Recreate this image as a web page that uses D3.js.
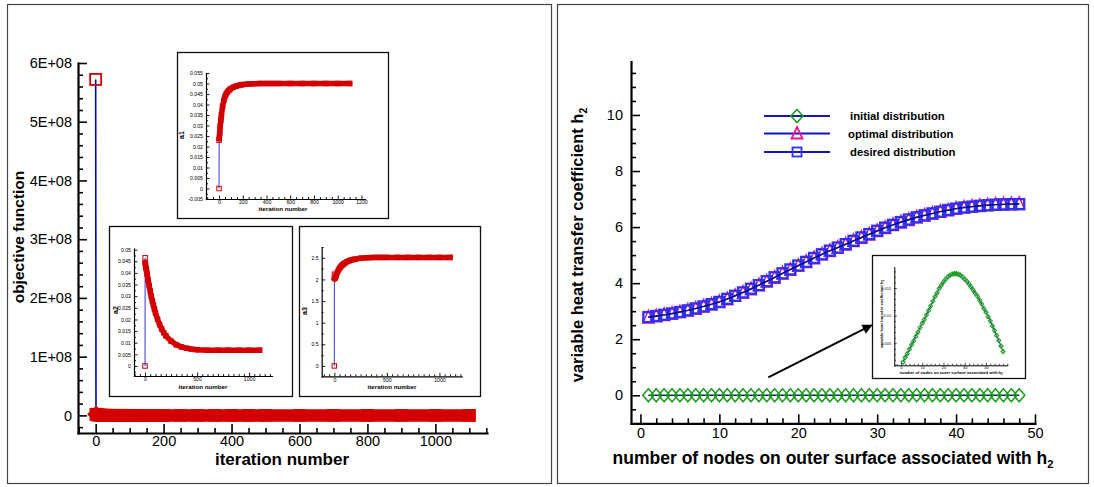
<!DOCTYPE html>
<html><head><meta charset="utf-8">
<script src="https://cdn.jsdelivr.net/npm/d3@7"></script>
<style>body{margin:0;background:#fff}svg{display:block}text{font-family:"Liberation Sans",Arial,Helvetica,sans-serif}</style>
</head><body><svg id="c" width="1094" height="487"></svg>
<script>
// ---------------- DATA ----------------
const iterations = [0,1,2,5,10,15,20,30,40,50,60,70,80,90,100,120,140,160,180,200,250,300,350,400,450,500,600,700,800,900,1000,1100];
const objective  = [5.72e8,1.8e6,1.2e6,8.0e5,5.5e5,4.0e5,3.0e5,1.9e5,1.3e5,9.0e4,6.5e4,4.8e4,3.6e4,2.7e4,2.1e4,1.3e4,8.5e3,5.8e3,4.0e3,2.9e3,1.5e3,9.0e2,6.0e2,4.5e2,3.6e2,3.0e2,2.4e2,2.1e2,1.9e2,1.8e2,1.7e2,1.7e2];
const a1 = [0,0.0230,0.0238,0.0262,0.0295,0.0325,0.0350,0.0392,0.0420,0.0438,0.0450,0.0459,0.0466,0.0471,0.0476,0.0482,0.0487,0.0490,0.0493,0.0495,0.0498,0.0499,0.0500,0.0500,0.0500,0.0500,0.0500,0.0500,0.0500,0.0500,0.0500,0.0500];
const a2 = [0,0.0465,0.0442,0.0435,0.0420,0.0407,0.0395,0.0370,0.0345,0.0322,0.0300,0.0280,0.0262,0.0245,0.0229,0.0201,0.0178,0.0159,0.0143,0.0130,0.0107,0.0091,0.0082,0.0076,0.0072,0.0070,0.0068,0.0068,0.0068,0.0068,0.0068,0.0068];
const a3 = [0,2.12,2.02,2.03,2.05,2.08,2.11,2.17,2.22,2.26,2.29,2.32,2.34,2.36,2.38,2.41,2.43,2.45,2.46,2.47,2.49,2.50,2.505,2.51,2.51,2.51,2.51,2.51,2.51,2.51,2.51,2.51];

const nodes = [1,2,3,4,5,6,7,8,9,10,11,12,13,14,15,16,17,18,19,20,21,22,23,24,25,26,27,28,29,30,31,32,33,34,35,36,37,38,39,40,41,42,43,44,45,46,47,48];
const initialH = [0,0,0,0,0,0,0,0,0,0,0,0,0,0,0,0,0,0,0,0,0,0,0,0,0,0,0,0,0,0,0,0,0,0,0,0,0,0,0,0,0,0,0,0,0,0,0,0];
const optimalH = [2.78,2.82,2.87,2.91,2.97,3.03,3.09,3.17,3.24,3.33,3.43,3.55,3.66,3.79,3.93,4.06,4.20,4.35,4.48,4.62,4.76,4.89,5.03,5.15,5.27,5.38,5.51,5.62,5.74,5.86,5.97,6.08,6.17,6.26,6.35,6.42,6.48,6.55,6.60,6.66,6.70,6.73,6.76,6.78,6.80,6.81,6.82,6.83];
const desiredH = [2.79,2.83,2.87,2.92,2.97,3.03,3.10,3.17,3.25,3.33,3.44,3.55,3.67,3.80,3.93,4.07,4.21,4.35,4.49,4.63,4.76,4.90,5.03,5.16,5.27,5.39,5.51,5.63,5.75,5.87,5.98,6.08,6.18,6.27,6.35,6.42,6.49,6.55,6.61,6.66,6.70,6.73,6.76,6.78,6.80,6.81,6.82,6.82];
const insetH = [0.0016,0.0024,0.0031,0.0039,0.0047,0.0054,0.0062,0.0070,0.0078,0.0086,0.0093,0.0101,0.0109,0.0117,0.0126,0.0134,0.0141,0.0149,0.0155,0.0161,0.0166,0.0170,0.0173,0.0175,0.0176,0.0176,0.0175,0.0173,0.0170,0.0166,0.0162,0.0157,0.0152,0.0146,0.0140,0.0135,0.0128,0.0121,0.0113,0.0106,0.0098,0.0090,0.0081,0.0073,0.0064,0.0055,0.0045,0.0035];

const legendLabels = ["initial distribution","optimal distribution","desired distribution"];
const objTicks = [0,1e8,2e8,3e8,4e8,5e8,6e8];
const iterTicks = [0,200,400,600,800,1000];
const iterTicks1 = [0,200,400,600,800,1000,1200];
const iterTicks2 = [0,500,1000];
const a1Ticks = [-0.005,0,0.005,0.01,0.015,0.02,0.025,0.03,0.035,0.04,0.045,0.05,0.055];
const a2Ticks = [0,0.005,0.01,0.015,0.02,0.025,0.03,0.035,0.04,0.045,0.05];
const a3Ticks = [0,0.5,1,1.5,2,2.5];
const nodeTicks = [0,10,20,30,40,50];
const hTicks = [0,2,4,6,8,10];
const insetXTicks = [0,10,20,30,40];
const insetYTicks = [0.005,0.01,0.015];

// ---------------- DRAWING ----------------
const RED = '#D20000', NAVY = '#10108A';
const svg = d3.select('#c');
svg.append('rect').attr('width',1094).attr('height',487).attr('fill','#fff');
svg.append('rect').attr('x',7.5).attr('y',4.5).attr('width',544).attr('height',479).attr('fill','none').attr('stroke','#444').attr('stroke-width',1.2);
svg.append('rect').attr('x',557.5).attr('y',4.5).attr('width',531).attr('height',479).attr('fill','none').attr('stroke','#444').attr('stroke-width',1.2);

function minors(lo, hi, step, majors) {
  const out = [];
  for (let k = Math.ceil(lo/step - 1e-9); k*step <= hi + 1e-12; k++) {
    const v = +(k*step).toFixed(10);
    if (!majors.some(m => Math.abs(m - v) < step*1e-3)) out.push(v);
  }
  return out;
}

function axes(g, x, y, o) {
  const yb = y.range()[0], xl = x.range()[0];
  const styleLines = s => s.selectAll('line').attr('stroke','#000').attr('stroke-width',o.tw);
  g.append('g').attr('transform',`translate(0,${yb})`)
    .call(d3.axisBottom(x).tickValues(o.xMinor).tickSize(-o.min).tickSizeOuter(0).tickFormat(''))
    .call(s => { s.select('.domain').remove(); styleLines(s); });
  g.append('g').attr('transform',`translate(${xl},0)`)
    .call(d3.axisLeft(y).tickValues(o.yMinor).tickSize(-o.min).tickSizeOuter(0).tickFormat(''))
    .call(s => { s.select('.domain').remove(); styleLines(s); });
  const gx = g.append('g').attr('transform',`translate(0,${yb})`)
    .call(d3.axisBottom(x).tickValues(o.xMajor).tickSize(-o.maj).tickSizeOuter(0).tickPadding(o.xPad).tickFormat(o.xFmt));
  const gy = g.append('g').attr('transform',`translate(${xl},0)`)
    .call(d3.axisLeft(y).tickValues(o.yMajor).tickSize(-o.maj).tickSizeOuter(0).tickPadding(o.yPad).tickFormat(o.yFmt));
  [gx, gy].forEach(a => {
    a.attr('font-family', null).attr('font-size', null);
    a.select('.domain').attr('stroke','#000').attr('stroke-width',o.sw).attr('stroke-linecap','square');
    styleLines(a);
    a.selectAll('text').attr('font-size', o.fs).attr('fill','#000');
  });
}

function convergence(g, x, y, it, vals, o) {
  const pts = it.map((d,i) => [x(d), y(vals[i])]);
  g.append('path').attr('d', d3.line()(pts)).attr('fill','none').attr('stroke',o.lc).attr('stroke-width',o.lw);
  g.append('path').attr('d', d3.line()(pts.slice(o.bandFrom))).attr('fill','none').attr('stroke',RED)
    .attr('stroke-width',o.band).attr('stroke-linecap','square').attr('stroke-linejoin','round');
  g.selectAll(null).data(pts).join('rect')
    .attr('x', p => p[0]-o.ms/2).attr('y', p => p[1]-o.ms/2).attr('width',o.ms).attr('height',o.ms)
    .attr('fill','none').attr('stroke',RED).attr('stroke-width',o.msw);
}

const fmtSmall = d => String(+d.toFixed(4));

// ===== LEFT MAIN =====
{
  const g = svg.append('g');
  const x = d3.scaleLinear().domain([-52,1152]).range([78,487]);
  const y = d3.scaleLinear().domain([-3e7,6e8]).range([433,63]);
  axes(g, x, y, {xMajor:iterTicks, xMinor:minors(-52,1152,50,iterTicks), yMajor:objTicks, yMinor:minors(-3e7,6e8,2e7,objTicks),
    maj:9, min:5, sw:2.2, tw:1.6, fs:14.5, xPad:3, yPad:6, xFmt:d=>d, yFmt:d=> d===0 ? '0' : (d/1e8)+'E+08'});
  convergence(g, x, y, iterations, objective, {lc:'#0000C0', lw:1.6, band:12.5, bandFrom:1, ms:11, msw:1.8});
  g.append('text').attr('x',282).attr('y',465).attr('text-anchor','middle').attr('font-weight','bold').attr('font-size',17).text('iteration number');
  g.append('text').attr('transform','translate(24,237) rotate(-90)').attr('text-anchor','middle').attr('font-weight','bold').attr('font-size',15.5).text('objective function');
}

// ===== LEFT INSETS =====
function inset(box, xd, xr, yd, yr, vals, o) {
  const g = svg.append('g');
  g.append('rect').attr('x',box[0]+0.5).attr('y',box[1]+0.5).attr('width',box[2]-box[0]).attr('height',box[3]-box[1])
    .attr('fill','#fff').attr('stroke','#111').attr('stroke-width',1.3);
  const x = d3.scaleLinear().domain(xd).range(xr);
  const y = d3.scaleLinear().domain(yd).range(yr);
  axes(g, x, y, {xMajor:o.xt, xMinor:minors(xd[0],xd[1],o.xm,o.xt), yMajor:o.yt, yMinor:minors(yd[0],yd[1],o.ym,o.yt),
    maj:3.5, min:2, sw:1.2, tw:0.9, fs:5.2, xPad:1.8, yPad:3, xFmt:d=>d, yFmt:fmtSmall});
  convergence(g, x, y, iterations, vals, {lc:'#4848D8', lw:1.1, band:5.5, bandFrom:2, ms:4.5, msw:1});
  g.append('text').attr('x',o.tx).attr('y',o.ty).attr('text-anchor','middle').attr('font-weight','bold').attr('font-size',6.2).text('iteration number');
  g.append('text').attr('transform',`translate(${o.lx},${o.ly}) rotate(-90)`).attr('text-anchor','middle').attr('font-weight','bold').attr('font-size',7).text(o.label);
}
inset([177,52,388,218], [-110,1230], [206,365], [-0.005,0.055], [199,73], a1,
  {xt:iterTicks1, xm:50, yt:a1Ticks, ym:0.0025, tx:283, ty:211, lx:184, ly:135, label:'a1'});
inset([109,226,292,396], [-106,1220], [134,272], [-0.0043,0.0505], [376,248.5], a2,
  {xt:iterTicks2, xm:50, yt:a2Ticks, ym:0.0025, tx:203, ty:389, lx:117.5, ly:310, label:'a2'});
inset([299,226,480,396], [-120,1212], [321.7,461.7], [-0.24,2.75], [376.3,247], a3,
  {xt:iterTicks2, xm:50, yt:a3Ticks, ym:0.25, tx:392, ty:389, lx:306.5, ly:311, label:'a3'});

// ===== RIGHT MAIN =====
const GREEN = '#1FA01F', PINK = '#F0168A', BLUE = '#3030F0';
const diamond = (g, px, py, w, h, c, sw) => g.append('path')
  .attr('d', `M${px},${py-h}L${px+w},${py}L${px},${py+h}L${px-w},${py}Z`).attr('fill','none').attr('stroke',c).attr('stroke-width',sw);
const tri = (g, px, py, hw, top, bot, c, sw) => g.append('path')
  .attr('d', `M${px},${py-top}L${px+hw},${py+bot}L${px-hw},${py+bot}Z`).attr('fill','none').attr('stroke',c).attr('stroke-width',sw);
const sq = (g, px, py, s, c, sw) => g.append('rect').attr('x',px-s/2).attr('y',py-s/2).attr('width',s).attr('height',s)
  .attr('fill','none').attr('stroke',c).attr('stroke-width',sw);

{
  const g = svg.append('g');
  const x = d3.scaleLinear().domain([-1.2,50]).range([631,1035]);
  const y = d3.scaleLinear().domain([-1,11.9]).range([423.3,61.7]);
  axes(g, x, y, {xMajor:nodeTicks, xMinor:minors(-1.2,50,2,nodeTicks), yMajor:hTicks, yMinor:minors(-1,11.9,0.5,hTicks),
    maj:9, min:5, sw:2.2, tw:1.6, fs:14.5, xPad:4, yPad:8, xFmt:d=>d, yFmt:d=>d});
  const line = d3.line().x((d,i)=>x(nodes[i])).y(d=>y(d));
  g.append('path').attr('d', line(initialH)).attr('fill','none').attr('stroke',NAVY).attr('stroke-width',1.6);
  initialH.forEach((v,i) => diamond(g, x(nodes[i]), y(v), 5.6, 6.6, GREEN, 1.6));
  optimalH.forEach((v,i) => tri(g, x(nodes[i]), y(v), 5.5, 7, 5.6, PINK, 1.5));
  desiredH.forEach((v,i) => sq(g, x(nodes[i]), y(v), 10, BLUE, 2.3));
  g.append('path').attr('d', line(optimalH)).attr('fill','none').attr('stroke',NAVY).attr('stroke-width',1.4);
  g.append('path').attr('d', line(desiredH)).attr('fill','none').attr('stroke',NAVY).attr('stroke-width',1.4);

  const xt = g.append('text').attr('x',833).attr('y',464).attr('text-anchor','middle').attr('font-weight','bold').attr('font-size',17.5);
  xt.append('tspan').text('number of nodes on outer surface associated with h');
  xt.append('tspan').attr('font-size',11).attr('dy',4).text('2');
  const yt = g.append('text').attr('transform','translate(583,245) rotate(-90)').attr('text-anchor','middle').attr('font-weight','bold').attr('font-size',16.5);
  yt.append('tspan').text('variable heat transfer coefficient h');
  yt.append('tspan').attr('font-size',10.5).attr('dy',4).text('2');

  // legend
  const ly = [116, 133.5, 152];
  ly.forEach((yy,k) => {
    g.append('line').attr('x1',764).attr('x2',830).attr('y1',yy).attr('y2',yy).attr('stroke','#1515C0').attr('stroke-width',2);
    if (k===0) diamond(g, 797, yy, 6, 6.5, GREEN, 1.6);
    if (k===1) tri(g, 797, yy, 5.5, 6.5, 5, PINK, 1.8);
    if (k===2) sq(g, 797, yy, 9, BLUE, 1.8);
    g.append('text').attr('x', k===1 ? 848 : 850).attr('y', yy+4).attr('font-weight','bold').attr('font-size',11.3).text(legendLabels[k]);
  });

  // arrow
  const defs = svg.append('defs');
  defs.append('marker').attr('id','ah').attr('viewBox','0 0 10 10').attr('refX',9).attr('refY',5)
    .attr('markerWidth',7).attr('markerHeight',5).attr('orient','auto').attr('markerUnits','strokeWidth')
    .append('path').attr('d','M0,0L10,5L0,10Z').attr('fill','#000');
  g.append('line').attr('x1',x(16.2)).attr('y1',y(0.64)).attr('x2',x(29.3)).attr('y2',y(2.5))
    .attr('stroke','#000').attr('stroke-width',2).attr('marker-end','url(#ah)');
}

// ===== RIGHT INSET =====
{
  const g = svg.append('g');
  g.append('rect').attr('x',872.5).attr('y',255.5).attr('width',153).attr('height',123).attr('fill','#fff').attr('stroke','#111').attr('stroke-width',1.3);
  const x = d3.scaleLinear().domain([-3.1,50]).range([894.3,1007.3]);
  const y = d3.scaleLinear().domain([0.001,0.0188]).range([365.3,267]);
  axes(g, x, y, {xMajor:insetXTicks, xMinor:minors(-3.1,50,2,insetXTicks), yMajor:insetYTicks, yMinor:minors(0.001,0.0188,0.001,insetYTicks),
    maj:2.5, min:1.5, sw:1, tw:0.7, fs:4, xPad:1, yPad:3, xFmt:d=>d, yFmt:fmtSmall});
  const line = d3.line().x((d,i)=>x(nodes[i])).y(d=>y(d));
  g.append('path').attr('d', line(insetH)).attr('fill','none').attr('stroke','#2020C0').attr('stroke-width',1);
  insetH.forEach((v,i) => diamond(g, x(nodes[i]), y(v), 2, 2.2, GREEN, 1.1));
  const xt = g.append('text').attr('x',951).attr('y',373.5).attr('text-anchor','middle').attr('font-weight','bold').attr('font-size',4.1);
  xt.append('tspan').text('number of nodes on outer surface associated with h');
  xt.append('tspan').attr('font-size',2.8).attr('dy',1).text('2');
  const yt = g.append('text').attr('transform','translate(883,314) rotate(-90)').attr('text-anchor','middle').attr('font-weight','bold').attr('font-size',4.1);
  yt.append('tspan').text('variable heat transfer coefficient h');
  yt.append('tspan').attr('font-size',2.8).attr('dy',1).text('2');
}
</script></body></html>
